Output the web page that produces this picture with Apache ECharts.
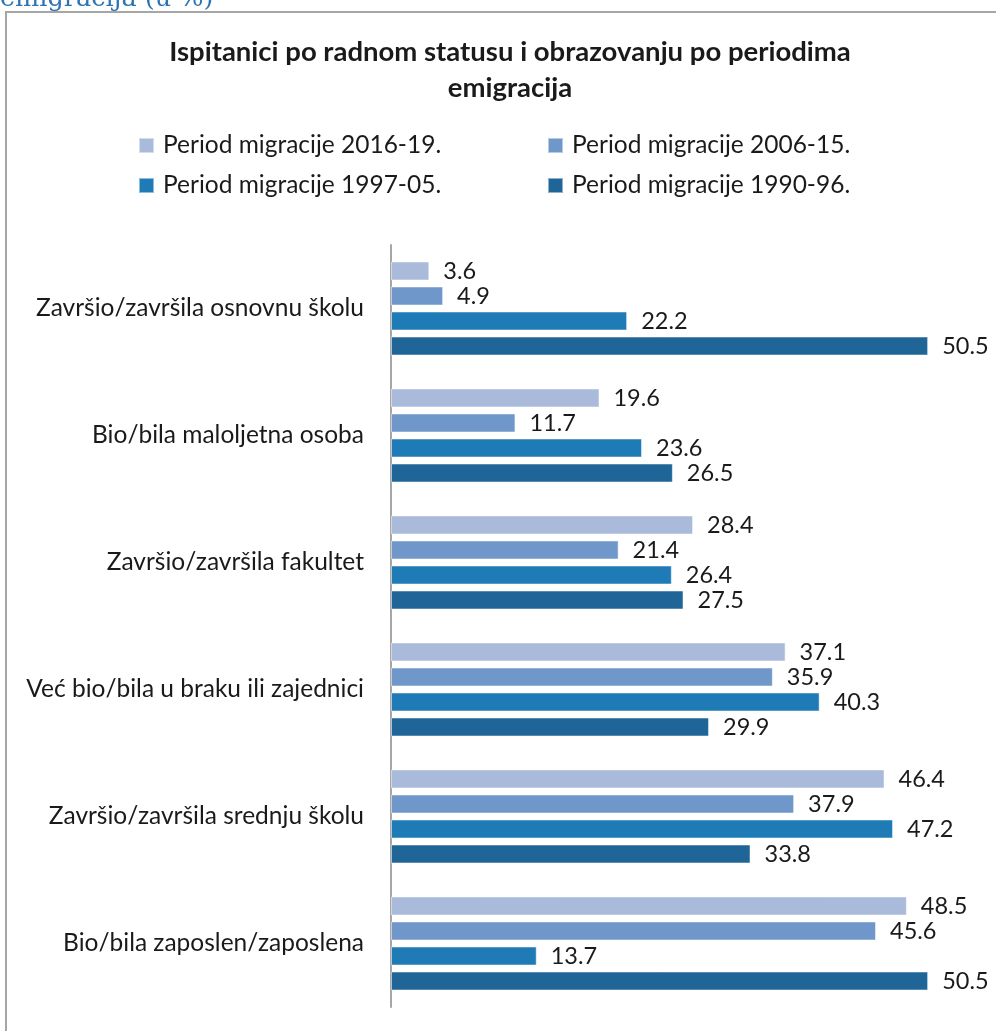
<!DOCTYPE html>
<html>
<head>
<meta charset="utf-8">
<script src="https://cdn.jsdelivr.net/npm/echarts@6/dist/echarts.min.js"></script>
<style>
html,body{margin:0;padding:0;background:#fff;}
#chart{width:996px;height:1031px;}
</style>
</head>
<body>
<div id="chart"></div>
<script>
const categories = [
  'Završio/završila osnovnu školu',
  'Bio/bila maloljetna osoba',
  'Završio/završila fakultet',
  'Već bio/bila u braku ili zajednici',
  'Završio/završila srednju školu',
  'Bio/bila zaposlen/zaposlena'
];
const seriesNames = [
  'Period migracije 2016-19.',
  'Period migracije 2006-15.',
  'Period migracije 1997-05.',
  'Period migracije 1990-96.'
];
const values2016 = [3.6, 19.6, 28.4, 37.1, 46.4, 48.5];
const values2006 = [4.9, 11.7, 21.4, 35.9, 37.9, 45.6];
const values1997 = [22.2, 23.6, 26.4, 40.3, 47.2, 13.7];
const values1990 = [50.5, 26.5, 27.5, 29.9, 33.8, 50.5];
const colors = ['#a9bada', '#6f97c9', '#1f7bb6', '#1f6597'];
const allValues = [values2016, values2006, values1997, values1990];

const FONT = 'Lato';
const chart = echarts.init(document.getElementById('chart'));

const legendPos = [
  {left: 138, top: 133},
  {left: 547, top: 133},
  {left: 138, top: 173},
  {left: 547, top: 173}
];

const option = {
  animation: false,
  backgroundColor: '#fff',
  title: {
    text: 'Ispitanici po radnom statusu i obrazovanju po periodima\nemigracija',
    left: 505,
    textAlign: 'center',
    top: 29,
    textStyle: {fontFamily: FONT, fontWeight: 'bold', fontSize: 27.5, color: '#1a1a1a', lineHeight: 36}
  },
  graphic: [
    {type: 'rect', shape: {x: 6, y: 12, width: 1200, height: 1200}, style: {fill: 'none', stroke: '#a6a6a6', lineWidth: 2}, z: 0, silent: true},
    {type: 'text', left: 0, top: -14, style: {text: 'emigracija (u %)', fontFamily: 'DejaVu Serif', fontSize: 25.5, fill: '#2e74b5'}, z: 10}
  ],
  legend: seriesNames.map((n, i) => ({
    data: [n],
    left: legendPos[i].left,
    top: legendPos[i].top,
    padding: 0,
    icon: 'rect',
    itemWidth: 15,
    itemHeight: 15,
    textStyle: {fontFamily: FONT, fontSize: 24.5, color: '#1a1a1a', padding: [0, 0, 0, 4]}
  })),
  grid: {left: 391, top: 245, width: 585, height: 762, containLabel: false},
  xAxis: {
    type: 'value', min: 0, max: 55,
    axisLine: {show: false}, axisTick: {show: false}, axisLabel: {show: false}, splitLine: {show: false}
  },
  yAxis: {
    type: 'category', data: categories, inverse: true,
    axisLine: {show: true, lineStyle: {color: '#a6a6a6', width: 2}},
    axisTick: {show: false},
    axisLabel: {fontFamily: FONT, fontSize: 24.5, color: '#1a1a1a', margin: 27}
  },
  series: seriesNames.map((n, i) => ({
    name: n,
    type: 'bar',
    data: allValues[i],
    barWidth: 19,
    barGap: '31.6%',
    itemStyle: {color: colors[i], borderColor: 'rgba(255,255,255,0.5)', borderWidth: 1},
    label: {show: true, position: 'right', distance: 14, fontFamily: FONT, fontSize: 23.5, color: '#1a1a1a',
      formatter: p => p.value.toFixed(1)}
  }))
};
chart.setOption(option);
</script>
</body>
</html>
